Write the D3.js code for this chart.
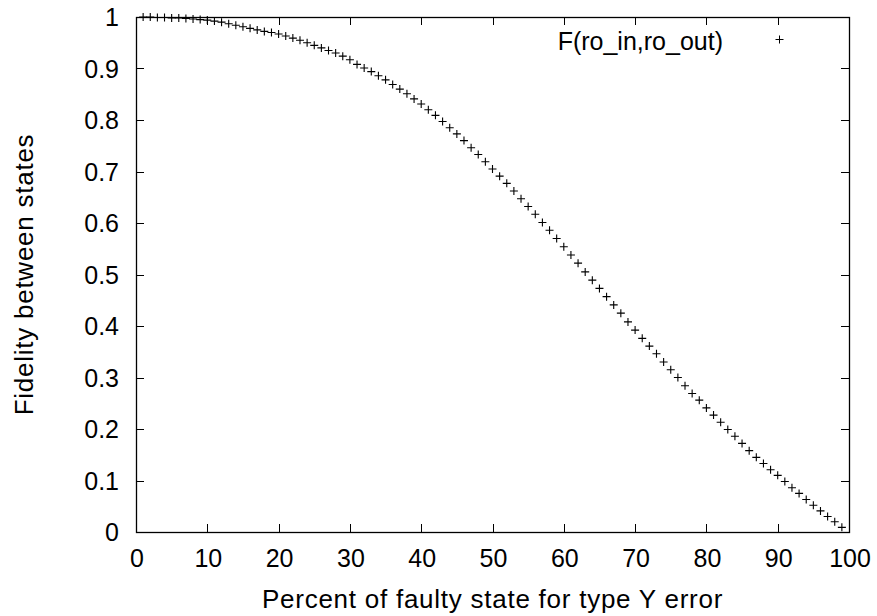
<!DOCTYPE html>
<html>
<head>
<meta charset="utf-8">
<script src="https://cdn.jsdelivr.net/npm/d3@7"></script>
<style>
  html, body { margin: 0; padding: 0; background: #fff; }
  svg { display: block; font-family: "Liberation Sans", Arial, sans-serif; }
</style>
</head>
<body>
<svg id="chart" width="877" height="616"></svg>
<script>
// ---- data ----
const percents = d3.range(1, 100); // 1..99
const fidelity = [
  1.000, 1.000, 0.999, 0.999, 0.998, 0.998, 0.997, 0.996, 0.995, 0.994,
  0.992, 0.990, 0.987, 0.984, 0.981, 0.978, 0.975, 0.972, 0.970, 0.967,
  0.963, 0.959, 0.955, 0.950, 0.945, 0.940, 0.935, 0.930, 0.924, 0.917,
  0.908, 0.901, 0.894, 0.886, 0.878, 0.869, 0.860, 0.851, 0.841, 0.831,
  0.820, 0.809, 0.797, 0.785, 0.773, 0.760, 0.746, 0.733, 0.719, 0.705,
  0.691, 0.677, 0.662, 0.647, 0.632, 0.617, 0.601, 0.586, 0.570, 0.554,
  0.538, 0.522, 0.505, 0.489, 0.473, 0.457, 0.441, 0.425, 0.408, 0.392,
  0.376, 0.361, 0.346, 0.330, 0.315, 0.300, 0.284, 0.269, 0.256, 0.241,
  0.227, 0.213, 0.199, 0.186, 0.172, 0.158, 0.145, 0.133, 0.121, 0.110,
  0.098, 0.086, 0.075, 0.063, 0.052, 0.041, 0.030, 0.020, 0.009
];
const xTicks = [0, 10, 20, 30, 40, 50, 60, 70, 80, 90, 100];
const yTicks = [0, 0.1, 0.2, 0.3, 0.4, 0.5, 0.6, 0.7, 0.8, 0.9, 1];
const seriesName = "F(ro_in,ro_out)";
const xTitle = "Percent of faulty state for type Y error";
const yTitle = "Fidelity between states";

// ---- layout ----
const L = 136, R = 849, T = 17, B = 532;
const svg = d3.select("#chart");
const x = d3.scaleLinear().domain([0, 100]).range([L, R]);
const y = d3.scaleLinear().domain([0, 1]).range([B, T]);
const FS = 25, TL = 8;

// ticks (inward, mirrored on all sides)
const g = svg.append("g").attr("stroke", "#000").attr("stroke-width", 1);
xTicks.forEach(v => {
  const px = Math.round(x(v)) + 0.5;
  g.append("line").attr("x1", px).attr("x2", px).attr("y1", B).attr("y2", B - TL);
  g.append("line").attr("x1", px).attr("x2", px).attr("y1", T).attr("y2", T + TL);
});
yTicks.forEach(v => {
  const py = Math.round(y(v)) + 0.5;
  g.append("line").attr("x1", L).attr("x2", L + TL).attr("y1", py).attr("y2", py);
  g.append("line").attr("x1", R).attr("x2", R - TL).attr("y1", py).attr("y2", py);
});

// frame
svg.append("rect")
  .attr("x", L + 0.5).attr("y", T + 0.5)
  .attr("width", R - L).attr("height", B - T)
  .attr("fill", "none").attr("stroke", "#000").attr("stroke-width", 1.3);

// tick labels
svg.append("g").selectAll("text").data(xTicks).join("text")
  .attr("x", d => x(d) + 1).attr("y", B + 35)
  .attr("text-anchor", "middle").attr("font-size", FS).attr("fill", "#000")
  .text(d => d3.format("d")(d));
svg.append("g").selectAll("text").data(yTicks).join("text")
  .attr("x", L - 17).attr("y", d => y(d) + 9)
  .attr("text-anchor", "end").attr("font-size", FS).attr("fill", "#000")
  .text(d => d3.format("~g")(d));

// axis titles
svg.append("text")
  .attr("x", (L + R) / 2).attr("y", 608)
  .attr("text-anchor", "middle").attr("font-size", 26)
  .attr("letter-spacing", 0.75).attr("fill", "#000")
  .text(xTitle);
svg.append("text")
  .attr("transform", `translate(33, ${(T + B) / 2}) rotate(-90)`)
  .attr("text-anchor", "middle").attr("font-size", 26)
  .attr("letter-spacing", 0.75).attr("fill", "#000")
  .text(yTitle);

// points as "+" markers
const M = 4;
const plus = d => `M${-M},0H${M}M0,${-M}V${M}`;
svg.append("g").selectAll("path").data(percents).join("path")
  .attr("transform", (d, i) => `translate(${x(d)},${y(fidelity[i])})`)
  .attr("d", plus)
  .attr("stroke", "#000").attr("stroke-width", 1.1).attr("fill", "none");

// legend
svg.append("text")
  .attr("x", 723).attr("y", 50)
  .attr("text-anchor", "end").attr("font-size", FS).attr("fill", "#000")
  .text(seriesName);
svg.append("path")
  .attr("transform", "translate(779.5,39.5)")
  .attr("d", `M-4,0H4M0,-4V4`)
  .attr("stroke", "#000").attr("stroke-width", 1).attr("fill", "none");
</script>
</body>
</html>
